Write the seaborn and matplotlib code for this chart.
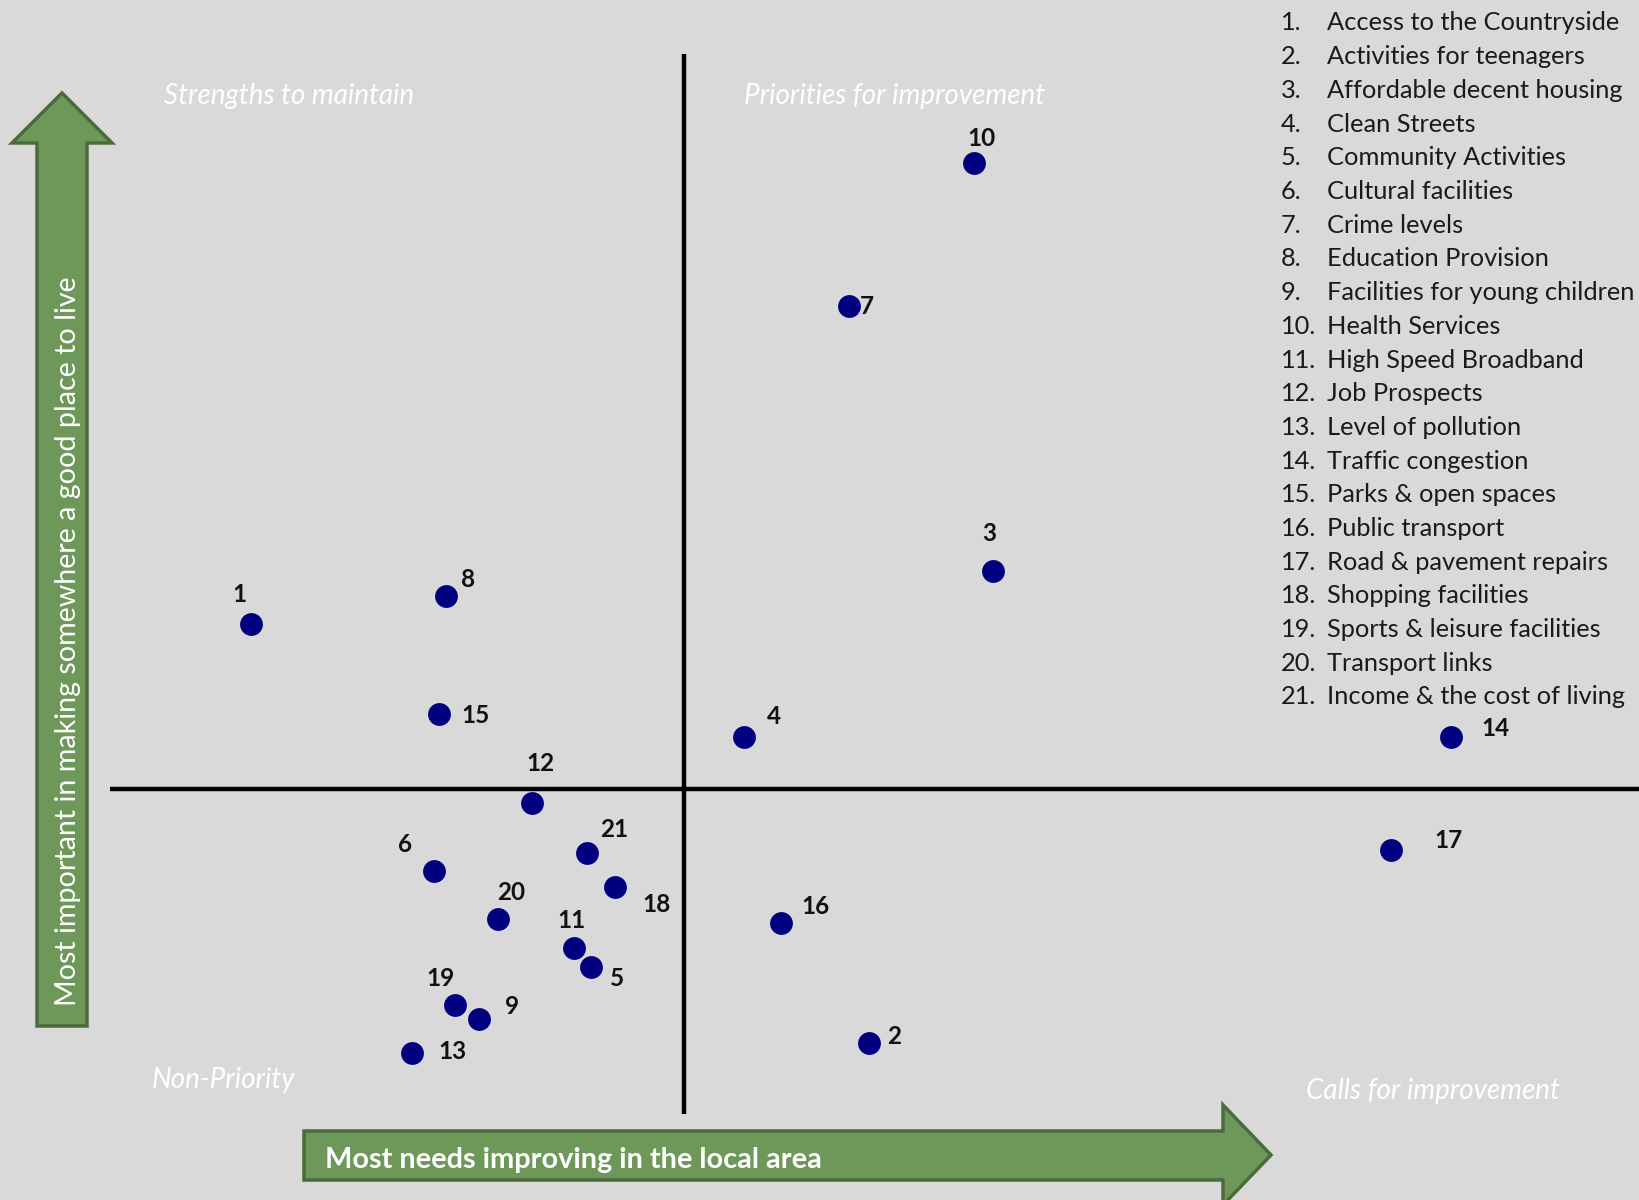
import matplotlib
matplotlib.use("Agg")
import matplotlib.pyplot as plt
import seaborn as sns
import pandas as pd
from matplotlib.patches import Polygon

# ---- data ----
ids = list(range(1, 22))
names = [
    "Access to the Countryside", "Activities for teenagers", "Affordable decent housing",
    "Clean Streets", "Community Activities", "Cultural facilities", "Crime levels",
    "Education Provision", "Facilities for young children", "Health Services",
    "High Speed Broadband", "Job Prospects", "Level of pollution", "Traffic congestion",
    "Parks & open spaces", "Public transport", "Road & pavement repairs",
    "Shopping facilities", "Sports & leisure facilities", "Transport links",
    "Income & the cost of living",
]
need_improving = [-4.14, 1.77, 2.96, 0.58, -0.89, -2.39, 1.58, -2.27, -1.96, 2.78,
                  -1.05, -1.45, -2.60, 7.34, -2.34, 0.93, 6.77, -0.66, -2.19, -1.78, -0.92]
importance = [1.58, -2.43, 2.09, 0.50, -1.70, -0.78, 4.62, 1.85, -2.20, 5.99,
              -1.52, -0.13, -2.52, 0.50, 0.72, -1.28, -0.58, -0.94, -2.06, -1.24, -0.61]
quadrants = ["Strengths to maintain", "Priorities for improvement", "Non-Priority", "Calls for improvement"]
x_axis_label = "Most needs improving in the local area"
y_axis_label = "Most important in making somewhere a good place to live"

# label offsets in points (style)
offsets = [(-8, 21), (18, 5), (-3, 27), (21, 15), (19, -8), (-21, 19), (13, 0),
           (16, 12), (24, 9), (5, 18), (-2, 20), (6, 28), (29, 1), (32, 6),
           (26, -1), (25, 12), (41, 7), (30, -12), (-10, 19), (10, 19), (19, 17)]

df = pd.DataFrame({"id": ids, "x": need_improving, "y": importance})

BG = "#D9D9D9"
W, H = 1639, 1200
fig = plt.figure(figsize=(W / 100, H / 100), dpi=100, facecolor=BG)
ax = fig.add_axes([0, 0, 1, 1])
ax.set_facecolor(BG)
ax.set_xlim(-6.54, 9.14)
ax.set_ylim(-3.93, 7.55)
ax.axis("off")

# cross lines
ax.plot([0, 0], [-3.11, 7.03], color="black", lw=3.2, solid_capstyle="butt", zorder=2)
ax.plot([-5.49, 9.14], [0, 0], color="black", lw=3.2, solid_capstyle="butt", zorder=2)

sns.scatterplot(data=df, x="x", y="y", ax=ax, s=270, color="#000080",
                edgecolor="#000080", linewidth=0, zorder=3, legend=False)

for i, (xx, yy) in enumerate(zip(need_improving, importance)):
    ax.annotate(str(ids[i]), (xx, yy), xytext=offsets[i], textcoords="offset points",
                ha="center", va="center", fontsize=17.5, fontweight="bold",
                family="Lato", color="#111111", zorder=4)

def fx(x):
    return x / W

def fy(y):
    return 1 - y / H

GREEN = "#6D985A"
EDGE = "#4B6B3A"

up = [(37, 1026), (37, 143), (12, 143), (62, 93), (112, 143), (87, 143), (87, 1026)]
fig.patches.append(Polygon([(fx(a), fy(b)) for a, b in up], closed=True,
                           transform=fig.transFigure, facecolor=GREEN,
                           edgecolor=EDGE, lw=2.5, zorder=1))
right = [(304, 1131), (1223, 1131), (1223, 1105), (1271, 1155), (1223, 1205),
         (1223, 1180), (304, 1180)]
fig.patches.append(Polygon([(fx(a), fy(b)) for a, b in right], closed=True,
                           transform=fig.transFigure, facecolor=GREEN,
                           edgecolor=EDGE, lw=2.5, zorder=1))

fig.text(fx(325), fy(1160), x_axis_label, color="white", fontsize=20.8,
         fontweight="bold", family="Lato", ha="left", va="center")
fig.text(fx(68), fy(1006), y_axis_label, color="white", fontsize=20.6,
         family="Lato", ha="left", va="center", rotation=90,
         rotation_mode="anchor")

qpos = [(164, 96), (744, 96), (152, 1080), (1306, 1091)]
for q, (a, b) in zip(quadrants, qpos):
    fig.text(fx(a), fy(b), q, color="white", fontsize=20, style="italic",
             family="Lato", ha="left", va="center")

for i, n in enumerate(names):
    yy = 23 + i * 33.7
    fig.text(fx(1281), fy(yy), f"{ids[i]}.", fontsize=18.3, family="Lato",
             color="#1a1a1a", ha="left", va="center")
    fig.text(fx(1327), fy(yy), n, fontsize=18.3, family="Lato",
             color="#1a1a1a", ha="left", va="center")

fig.savefig("out.png", dpi=100, facecolor=BG)
